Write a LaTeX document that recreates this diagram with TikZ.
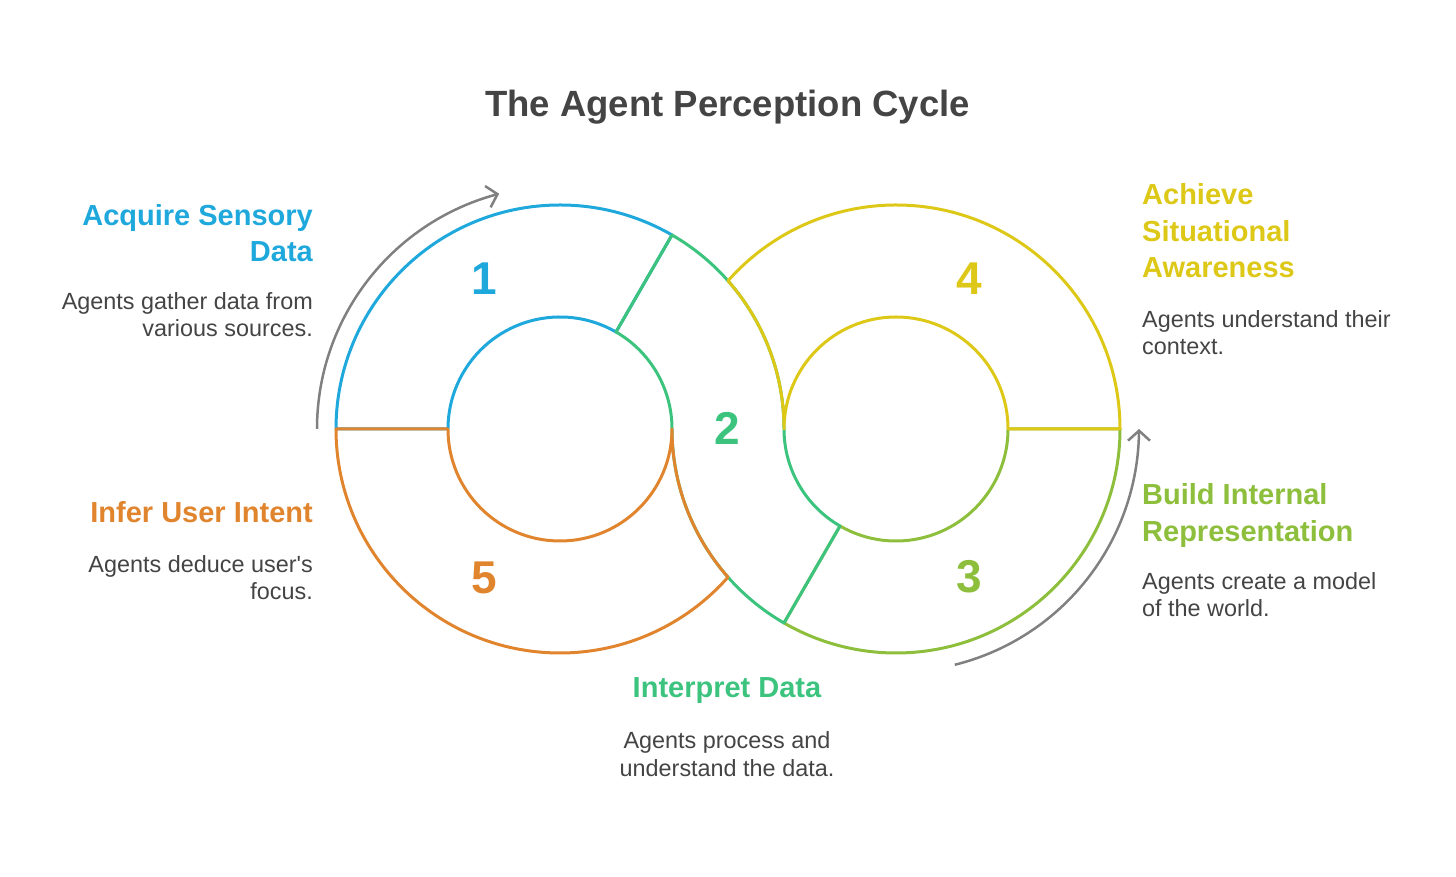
\documentclass[tikz,border=0pt]{standalone}
\usepackage{fontspec}
\setmainfont{Liberation Sans}
\usetikzlibrary{arrows.meta,bending,calc}
\definecolor{cblue}{HTML}{1FA8DC}
\definecolor{cgreen}{HTML}{3CC47F}
\definecolor{colive}{HTML}{8DBE3C}
\definecolor{cyellow}{HTML}{DDC818}
\definecolor{corange}{HTML}{E0852E}
\definecolor{ctext}{HTML}{444444}
\definecolor{cgray}{HTML}{808080}
\begin{document}
\begin{tikzpicture}[x=1pt,y=1pt,
  seg/.style={line width=3pt,line join=round},
  arr/.style={line width=2.5pt,draw=cgray,-{Straight Barb[length=10pt,width=22pt]}},
  head/.style={font=\bfseries\fontsize{29}{36}\selectfont,inner sep=0pt},
  body/.style={font=\fontsize{23.4}{27}\selectfont,text=ctext,inner sep=0pt},
  num/.style={font=\bfseries\fontsize{46}{46}\selectfont,inner sep=0pt},
  title/.style={font=\bfseries\fontsize{36.5}{40}\selectfont,text=ctext,inner sep=0pt}]
\useasboundingbox (0,0) rectangle (1456,877);
\def\RO{224}
\def\RI{112}
\def\al{41.41}
\coordinate (C1) at (560,448);
\coordinate (C2) at (896,448);

% segment 1
\draw[seg,cblue] ($(C1)+(180:\RO)$) arc[start angle=180,end angle=60,radius=\RO]
  -- ($(C1)+(60:\RI)$) arc[start angle=60,end angle=180,radius=\RI] -- cycle;
% segment 3
\draw[seg,colive] ($(C2)+(0:\RO)$) arc[start angle=0,end angle=-120,radius=\RO]
  -- ($(C2)+(-120:\RI)$) arc[start angle=-120,end angle=0,radius=\RI] -- cycle;
% segment 2
\draw[seg,cgreen] ($(C1)+(60:\RO)$) arc[start angle=60,end angle=0,radius=\RO]
  arc[start angle=180,end angle=240,radius=\RI]
  -- ($(C2)+(240:\RO)$) arc[start angle=240,end angle=180,radius=\RO]
  arc[start angle=0,end angle=60,radius=\RI] -- cycle;
% segment 4
\draw[seg,cyellow] ($(C2)+(0:\RO)$) arc[start angle=0,end angle={180-\al},radius=\RO]
  arc[start angle=\al,end angle=0,radius=\RO]
  arc[start angle=180,end angle=0,radius=\RI] -- cycle;
% segment 5
\draw[seg,corange] ($(C1)+(180:\RO)$) arc[start angle=180,end angle={360-\al},radius=\RO]
  arc[start angle={180+\al},end angle=180,radius=\RO]
  arc[start angle=0,end angle=-180,radius=\RI] -- cycle;

% cycle arrows
\draw[arr] ($(C1)+(180:243)$) arc[start angle=180,end angle=104.5,radius=243];
\draw[arr] ($(C2)+(-76:243)$) arc[start angle=-76,end angle=0,radius=243];

% numbers
\node[num,text=cblue]   (n1) at (484,598) {1};
\node[num,text=cgreen]  (n2) at (727,449) {2};
\node[num,text=colive]  (n3) at (969,300) {3};
\node[num,text=cyellow] (n4) at (969,598) {4};
\node[num,text=corange] (n5) at (484,299) {5};

% title
\node[title,anchor=base] (title) at (727.5,760.3) {The Agent Perception Cycle};

% step 1
\node[head,text=cblue,anchor=base east] (h1a) at (313,651) {Acquire Sensory};
\node[head,text=cblue,anchor=base east] (h1b) at (313,615) {Data};
\node[body,anchor=base east] (b1a) at (313,567) {Agents gather data from};
\node[body,anchor=base east] (b1b) at (313,540) {various sources.};

% step 5
\node[head,text=corange,anchor=base east] (h5a) at (313,354) {Infer User Intent};
\node[body,anchor=base east] (b5a) at (313,304) {Agents deduce user\textquotesingle s};
\node[body,anchor=base east] (b5b) at (313,277) {focus.};

% step 4
\node[head,text=cyellow,anchor=base west] (h4a) at (1142,672) {Achieve};
\node[head,text=cyellow,anchor=base west] (h4b) at (1142,635.5) {Situational};
\node[head,text=cyellow,anchor=base west] (h4c) at (1142,599) {Awareness};
\node[body,anchor=base west] (b4a) at (1142,549) {Agents understand their};
\node[body,anchor=base west] (b4b) at (1142,522) {context.};

% step 3
\node[head,text=colive,anchor=base west] (h3a) at (1142,372) {Build Internal};
\node[head,text=colive,anchor=base west] (h3b) at (1142,335.5) {Representation};
\node[body,anchor=base west] (b3a) at (1142,287) {Agents create a model};
\node[body,anchor=base west] (b3b) at (1142,260.3) {of the world.};

% step 2
\node[head,text=cgreen,anchor=base] (h2a) at (727,179) {Interpret Data};
\node[body,anchor=base] (b2a) at (727,128) {Agents process and};
\node[body,anchor=base] (b2b) at (727,100.3) {understand the data.};
\end{tikzpicture}
\end{document}
